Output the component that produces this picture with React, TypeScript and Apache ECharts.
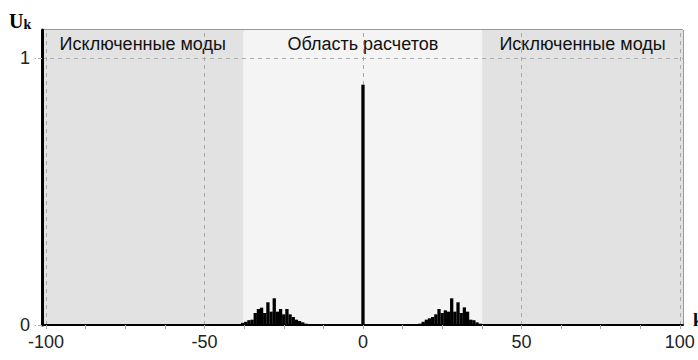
import React, { useEffect, useRef } from "react";
import * as echarts from "echarts";

// Mode numbers k and amplitudes U_k
const modeK: number[] = [
  -38, -37, -36, -35, -34, -33, -32, -31, -30, -29, -28, -27, -26, -25, -24, -23, -22, -21, -20, -19, -18,
  0,
  18, 19, 20, 21, 22, 23, 24, 25, 26, 27, 28, 29, 30, 31, 32, 33, 34, 35, 36, 37,
];
const amplitude: number[] = [
  0.008, 0.012, 0.018, 0.02, 0.045, 0.06, 0.065, 0.045, 0.085, 0.05, 0.1, 0.05, 0.06, 0.04, 0.06, 0.04, 0.03, 0.02, 0.015, 0.01, 0.005,
  0.9,
  0.005, 0.012, 0.02, 0.025, 0.03, 0.04, 0.06, 0.045, 0.055, 0.05, 0.1, 0.05, 0.085, 0.045, 0.066, 0.05, 0.02, 0.018, 0.01, 0.005,
];

const xTickValues: number[] = [-100, -87.5, -75, -62.5, -50, -37.5, -25, -12.5, 0, 12.5, 25, 37.5, 50, 62.5, 75, 87.5, 100];
const xLabelValues: number[] = [-100, -50, 0, 50, 100];
const yLabelValues: number[] = [0, 1];
const xGridValues: number[] = [-100, -50, 0, 50, 100];
const yGridValues: number[] = [1];

const xMin = -101.3;
const xMax = 101;
const yMax = 1.105;
const calcLeft = -37.7;
const calcRight = 37.6;
const regionNames: string[] = ["Исключенные моды", "Область расчетов", "Исключенные моды"];

export default function App() {
  const ref = useRef<HTMLDivElement>(null);
  useEffect(() => {
    if (!ref.current) return;
    const chart = echarts.init(ref.current, null, { renderer: "svg" });
    const data = modeK.map((k, i) => [k, amplitude[i]]);
    const labelStyle = {
      show: true,
      position: "insideTop",
      distance: 5,
      fontSize: 18,
      color: "#111",
      fontFamily: "Liberation Sans, Arial, sans-serif",
    };
    chart.setOption({
      animation: false,
      backgroundColor: "#ffffff",
      grid: {
        left: 42,
        right: 15,
        top: 30,
        bottom: 35,
        show: true,
        borderColor: "#333",
        borderWidth: 1,
        backgroundColor: "transparent",
      },
      xAxis: {
        type: "value",
        min: xMin,
        max: xMax,
        z: 10,
        axisLine: { show: true, onZero: false, lineStyle: { color: "#000", width: 2 } },
        axisTick: {
          show: true,
          customValues: xTickValues,
          length: 4,
          lineStyle: { color: "#aaa", width: 1 },
        },
        axisLabel: {
          customValues: xLabelValues,
          fontSize: 18,
          color: "#222",
          margin: 8,
          fontFamily: "Liberation Sans, Arial, sans-serif",
        },
        splitLine: { show: false },
      },
      yAxis: {
        type: "value",
        min: 0,
        max: yMax,
        z: 10,
        axisLine: { show: true, onZero: false, lineStyle: { color: "#000", width: 3 } },
        axisTick: {
          show: true,
          customValues: yLabelValues,
          length: 7,
          lineStyle: { color: "#aaa", width: 1, type: "dashed" },
        },
        axisLabel: {
          customValues: yLabelValues,
          fontSize: 18,
          color: "#222",
          margin: 12,
          fontFamily: "Liberation Sans, Arial, sans-serif",
        },
        splitLine: { show: false },
      },
      series: [
        {
          type: "bar",
          data,
          barWidth: 3.3,
          itemStyle: { color: "#000" },
          z: 5,
          markArea: {
            silent: true,
            z: 1,
            data: [
              [
                { xAxis: xMin, itemStyle: { color: "#e2e2e2" }, label: { ...labelStyle, formatter: regionNames[0] } },
                { xAxis: calcLeft },
              ],
              [
                { xAxis: calcLeft, itemStyle: { color: "#f4f4f4" }, label: { ...labelStyle, formatter: regionNames[1] } },
                { xAxis: calcRight },
              ],
              [
                { xAxis: calcRight, itemStyle: { color: "#e2e2e2" }, label: { ...labelStyle, formatter: regionNames[2] } },
                { xAxis: xMax },
              ],
            ],
          },
          markLine: {
            silent: true,
            z: 2,
            symbol: "none",
            label: { show: false },
            lineStyle: { color: "#aaa", width: 1, type: [4, 4] },
            data: [
              ...xGridValues.map((v) => ({ xAxis: v })),
              ...yGridValues.map((v) => ({ yAxis: v })),
            ],
          },
        },
      ],
      graphic: [
        {
          type: "text",
          left: 9,
          top: 11,
          style: {
            text: "{u|U}{k|k}",
            rich: {
              u: { fontSize: 20, fontWeight: "bold", fontFamily: "Liberation Serif, Times New Roman, serif", fill: "#000" },
              k: { fontSize: 14, fontWeight: "bold", fontFamily: "Liberation Serif, Times New Roman, serif", fill: "#000", verticalAlign: "bottom" },
            },
          },
        },
        {
          type: "text",
          x: 693,
          y: 311,
          style: {
            text: "k",
            fontSize: 18,
            fontWeight: "bold",
            fontFamily: "Liberation Serif, Times New Roman, serif",
            fill: "#000",
          },
        },
      ],
    });
    return () => chart.dispose();
  }, []);
  return (
    <div
      ref={ref}
      style={{ position: "fixed", left: 0, top: 0, width: 698, height: 360 }}
    />
  );
}
